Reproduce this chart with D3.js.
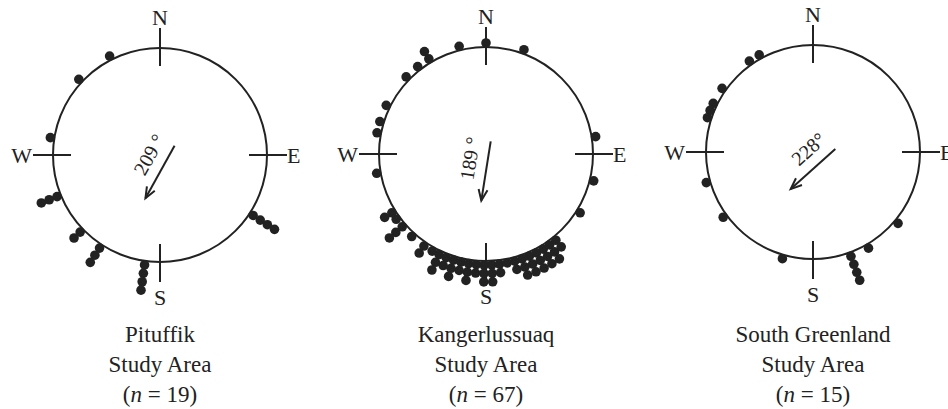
<!DOCTYPE html>
<html>
<head>
<meta charset="utf-8">
<script src="https://cdn.jsdelivr.net/npm/d3@7"></script>
<style>
body { margin:0; background:#fff; }
svg { display:block; font-family:"Liberation Serif", "Times New Roman", serif; }
</style>
</head>
<body>
<div class="chart"></div>
<script>
// study areas
const areaNames = ['Pituffik', 'Kangerlussuaq', 'South Greenland'];
const sampleSizes = [19, 67, 15];
const meanDirections = [209, 189, 228];
const meanLabels = ['209 °', '189 °', '228°'];

// azimuths (deg from N, clockwise) and number of stacked dots per azimuth
const pituffikAngles = [333, 313, 279, 248, 226, 213, 188, 123];
const pituffikCounts = [1, 1, 1, 3, 2, 3, 4, 4];

const kangerAngles = [0, 346, 20, 329, 322, 314, 296, 287, 281, 260, 81, 104, 122,
    238, 234, 229, 222, 214, 209, 205, 201, 197, 193, 189, 185, 181, 177, 173,
    169, 165, 161, 157, 153, 149, 145, 141];
const kangerCounts = [1, 1, 1, 2, 1, 1, 1, 1, 1, 1, 1, 1, 1,
    2, 1, 3, 1, 2, 1, 3, 2, 3, 2, 3, 2, 3, 3, 2,
    1, 2, 3, 3, 3, 3, 3, 2];

const southAngles = [331, 325, 305, 296, 292, 288, 254, 234, 196, 150, 130, 160];
const southCounts = [1, 1, 1, 1, 1, 1, 1, 1, 1, 1, 1, 4];

const cardinalAngles = [0, 90, 180, 270];
const cardinalLabels = ['N', 'E', 'S', 'W'];

const svg = d3.select('.chart').append('svg')
    .attr('width', 948)
    .attr('height', 409);

class CompassPlot
{
    constructor({cx, cy, radius, angles, counts, mean, meanLabel, name, n})
    {
        this.cx = cx;
        this.cy = cy;
        this.r = radius;
        this.mean = mean;
        this.meanLabel = meanLabel;
        this.name = name;
        this.n = n;
        this.ink = '#222';

        this.dots = angles.flatMap((a, i) => d3.range(counts[i]).map(k => ({ angle: a, level: k })));

        this.angleScale = d3.scaleLinear().domain([0, 360]).range([0, 2 * Math.PI]);
        this.stackScale = d3.scaleLinear().domain([0, 1]).range([radius + 4, radius + 12.5]);

        this.g = svg.append('g').attr('transform', `translate(${cx},${cy})`);
        this.plot();
    }

    plot()
    {
        const g = this.g;
        const r = this.r;
        const a = d => this.angleScale(d);

        g.append('circle')
        .attr('r', r)
        .attr('fill', 'none')
        .attr('stroke', this.ink)
        .attr('stroke-width', 2);

        g.selectAll('.tick')
        .data(cardinalAngles)
        .enter()
        .append('line')
        .attr('class', 'tick')
        .attr('x1', d => d3.pointRadial(a(d), r - 18)[0])
        .attr('y1', d => d3.pointRadial(a(d), r - 18)[1])
        .attr('x2', d => d3.pointRadial(a(d), r + 20)[0])
        .attr('y2', d => d3.pointRadial(a(d), r + 20)[1])
        .attr('stroke', this.ink)
        .attr('stroke-width', 2);

        const labelPos = [
            { x: 0, y: -r - 23, anchor: 'middle' },
            { x: r + 20, y: 8, anchor: 'start' },
            { x: 0, y: r + 43, anchor: 'middle' },
            { x: -r - 21, y: 8, anchor: 'end' }
        ];

        g.selectAll('.card')
        .data(cardinalLabels)
        .enter()
        .append('text')
        .attr('class', 'card')
        .attr('x', (d, i) => labelPos[i].x)
        .attr('y', (d, i) => labelPos[i].y)
        .attr('text-anchor', (d, i) => labelPos[i].anchor)
        .attr('font-size', 22)
        .attr('fill', this.ink)
        .text(d => d);

        g.selectAll('.dot')
        .data(this.dots)
        .enter()
        .append('circle')
        .attr('class', 'dot')
        .attr('cx', d => d3.pointRadial(a(d.angle), this.stackScale(d.level))[0])
        .attr('cy', d => d3.pointRadial(a(d.angle), this.stackScale(d.level))[1])
        .attr('r', 4.8)
        .attr('fill', this.ink);

        // mean direction arrow
        const dir = d3.pointRadial(a(this.mean), 1);
        const mid = [0, 17];
        const len = 60;
        const start = [mid[0] - dir[0] * len / 2, mid[1] - dir[1] * len / 2];
        const end = [mid[0] + dir[0] * len / 2, mid[1] + dir[1] * len / 2];

        g.append('line')
        .attr('x1', start[0]).attr('y1', start[1])
        .attr('x2', end[0]).attr('y2', end[1])
        .attr('stroke', this.ink)
        .attr('stroke-width', 2);

        const head = [-22, 22].map(off => {
            const p = d3.pointRadial(a(this.mean + 180 + off), 12);
            return [end[0] + p[0], end[1] + p[1]];
        });

        g.append('path')
        .attr('d', `M${head[0]}L${end}L${head[1]}`)
        .attr('fill', 'none')
        .attr('stroke', this.ink)
        .attr('stroke-width', 2)
        .attr('stroke-linejoin', 'miter');

        const perp = [-dir[1], dir[0]];
        const tx = mid[0] + perp[0] * 18 - dir[0] * 10;
        const ty = mid[1] + perp[1] * 18 - dir[1] * 10;
        const rot = Math.atan2(dir[1], dir[0]) * 180 / Math.PI - 180;

        g.append('text')
        .attr('transform', `translate(${tx},${ty}) rotate(${rot})`)
        .attr('text-anchor', 'middle')
        .attr('dominant-baseline', 'central')
        .attr('font-size', 20)
        .attr('fill', this.ink)
        .text(this.meanLabel);

        // caption
        const cap = svg.append('text')
        .attr('x', this.cx)
        .attr('text-anchor', 'middle')
        .attr('font-size', 23)
        .attr('fill', this.ink);

        cap.append('tspan').attr('x', this.cx).attr('y', 342).text(this.name);
        cap.append('tspan').attr('x', this.cx).attr('y', 372).text('Study Area');
        const nLine = cap.append('tspan').attr('x', this.cx).attr('y', 402);
        nLine.text('(');
        cap.append('tspan').attr('font-style', 'italic').text('n');
        cap.append('tspan').text(` = ${this.n})`);
    }
}

const centers = [[160, 155], [486, 154], [813, 152]];
const angleSets = [pituffikAngles, kangerAngles, southAngles];
const countSets = [pituffikCounts, kangerCounts, southCounts];

areaNames.forEach((name, i) => {
    new CompassPlot({
        cx: centers[i][0],
        cy: centers[i][1],
        radius: 107,
        angles: angleSets[i],
        counts: countSets[i],
        mean: meanDirections[i],
        meanLabel: meanLabels[i],
        name: name,
        n: sampleSizes[i]
    });
});
</script>
</body>
</html>
